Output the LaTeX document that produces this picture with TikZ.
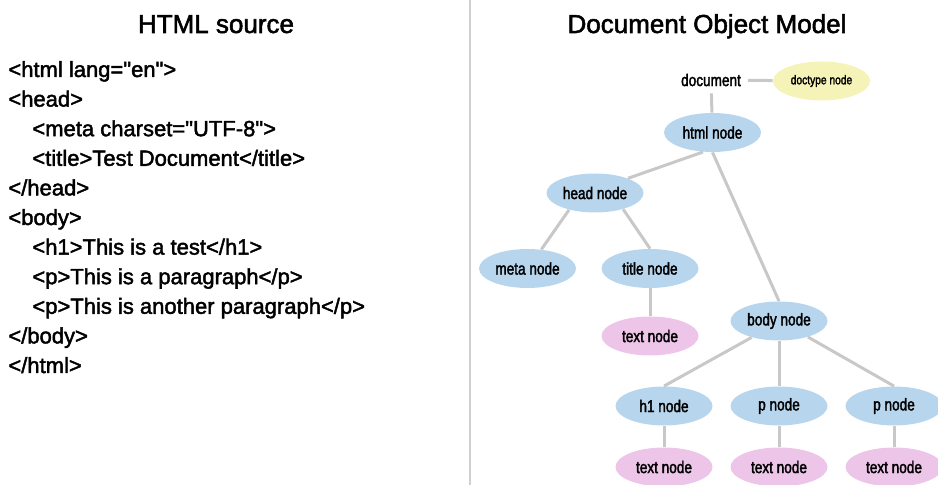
\documentclass[tikz,border=0pt]{standalone}
\usepackage{fontspec}
\setmainfont{Liberation Sans}[Ligatures=TeXOff,FakeBold=2]
\newfontfamily\nodefont{Liberation Sans}[FakeStretch=0.8,FakeBold=2]
\usepackage{tikz}
\usetikzlibrary{shapes.geometric}
\definecolor{elemblue}{RGB}{183,214,237}
\definecolor{textpink}{RGB}{237,197,232}
\definecolor{doctypeyellow}{RGB}{245,243,183}
\definecolor{linkgray}{RGB}{200,200,200}
\definecolor{dividergray}{RGB}{208,208,208}

\tikzset{
  domnode/.style={ellipse,inner sep=0pt,minimum width=48.5pt,minimum height=19.5pt,
    font=\nodefont\fontsize{8.5}{10}\selectfont},
  elemnode/.style={domnode,fill=elemblue},
  textnode/.style={domnode,fill=textpink},
  codeline/.style={anchor=base west,inner sep=0pt,font=\fontsize{11}{13}\selectfont},
  heading/.style={anchor=base,inner sep=0pt,font=\fontsize{13}{15}\selectfont},
  link/.style={draw=linkgray,line width=1.5pt},
}

\begin{document}
\begin{tikzpicture}[x=0.5pt,y=-0.5pt]
  \useasboundingbox (0,0) rectangle (938,485);
  \draw[draw=dividergray,line width=1.2pt] (470,0) -- (470,485);
  \node[heading] (srchead) at (216,33) {HTML source};
  \node[heading] (domhead) at (707,33) {Document Object Model};
  % html source
  \node[codeline] (code1) at (8,77) {<html lang="en">};
  \node[codeline] (code2) at (8,106.6) {<head>};
  \node[codeline] (code3) at (32,136.2) {<meta charset="UTF-8">};
  \node[codeline] (code4) at (32,165.8) {<title>Test Document</title>};
  \node[codeline] (code5) at (8,195.4) {</head>};
  \node[codeline] (code6) at (8,225) {<body>};
  \node[codeline] (code7) at (32,254.6) {<h1>This is a test</h1>};
  \node[codeline] (code8) at (32,284.2) {<p>This is a paragraph</p>};
  \node[codeline] (code9) at (32,313.8) {<p>This is another paragraph</p>};
  \node[codeline] (code10) at (8,343.4) {</body>};
  \node[codeline] (code11) at (8,373) {</html>};
  % document tree
  \node[font=\nodefont\fontsize{8.5}{10}\selectfont] (document) at (711,80) {document};
  \node[domnode,fill=doctypeyellow,font=\nodefont\fontsize{6.4}{8}\selectfont] (doctype) at (821.5,81) {doctype node};
  \node[elemnode] (html) at (712.5,132.5) {html node};
  \node[elemnode] (head) at (595,193) {head node};
  \node[elemnode] (meta) at (527.5,268.5) {meta node};
  \node[elemnode] (title) at (650,268.5) {title node};
  \node[textnode] (titletext) at (650,336) {text node};
  \node[elemnode] (body) at (779,321) {body node};
  \node[elemnode] (h1) at (664,406) {h1 node};
  \node[elemnode] (p1) at (779,406) {p node};
  \node[elemnode] (p2) at (894,406) {p node};
  \node[textnode] (h1text) at (664,467) {text node};
  \node[textnode] (p1text) at (779,467) {text node};
  \node[textnode] (p2text) at (894,467) {text node};
  \draw[link] (document) -- (doctype);
  \draw[link] (document) -- (html);
  \draw[link] (html.-116) -- (head.24);
  \draw[link] (head.-147) -- (meta.54);
  \draw[link] (head.-30) -- (title.north);
  \draw[link] (title) -- (titletext);
  \draw[link] (html.south) -- (body.north);
  \draw[link] (body.-149) -- (h1.north);
  \draw[link] (body) -- (p1);
  \draw[link] (body.-29) -- (p2.north);
  \draw[link] (h1) -- (h1text);
  \draw[link] (p1) -- (p1text);
  \draw[link] (p2) -- (p2text);
\end{tikzpicture}
\end{document}
